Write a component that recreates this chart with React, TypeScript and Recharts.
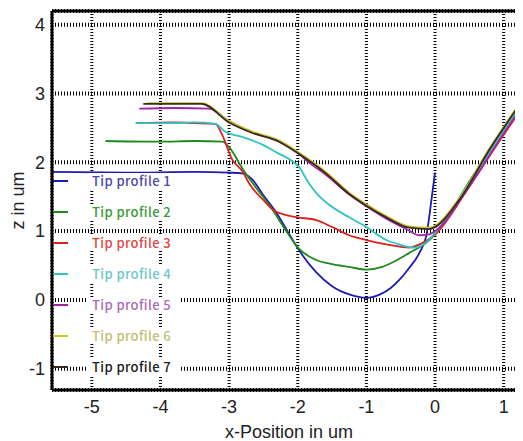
import {
  CartesianGrid,
  Legend,
  Line,
  LineChart,
  ReferenceLine,
  XAxis,
  YAxis,
} from "recharts";

const xTicks = [-5, -4, -3, -2, -1, 0, 1];
const zTicks = [-1, 0, 1, 2, 3, 4];

const profileNames = [
  "Tip profile 1",
  "Tip profile 2",
  "Tip profile 3",
  "Tip profile 4",
  "Tip profile 5",
  "Tip profile 6",
  "Tip profile 7",
];
const lineColors = ["#1c1cb4", "#1e8a1e", "#e0201e", "#2ec4c4", "#a424a8", "#c8c628", "#3a2a20"];
const textColors = ["#4a4aa8", "#3a9a3a", "#e04848", "#6cc8c8", "#a86cb8", "#c0c070", "#202020"];

const p1X = [-5.58, -4.5, -3.5, -3.0, -2.81, -2.67, -2.5, -2.32, -2.15, -1.98, -1.73, -1.5, -1.25, -1.0, -0.8, -0.65, -0.52, -0.38, -0.23, -0.12, -0.04, 0.0];
const p1Z = [1.86, 1.85, 1.86, 1.85, 1.84, 1.76, 1.52, 1.28, 1.0, 0.72, 0.4, 0.2, 0.08, 0.03, 0.08, 0.17, 0.29, 0.46, 0.68, 0.97, 1.55, 1.85];

const p2X = [-4.8, -4.0, -3.5, -3.1, -3.0, -2.8, -2.6, -2.4, -2.2, -1.98, -1.73, -1.5, -1.25, -1.0, -0.77, -0.63, -0.38, -0.13, 0.0, 0.5, 1.0, 1.26];
const p2Z = [2.31, 2.3, 2.31, 2.3, 2.22, 1.9, 1.62, 1.36, 1.05, 0.74, 0.58, 0.52, 0.48, 0.44, 0.48, 0.54, 0.68, 0.83, 0.95, 1.72, 2.5, 2.86];

const p3X = [-4.36, -3.8, -3.5, -3.2, -3.1, -2.96, -2.8, -2.7, -2.5, -2.35, -2.2, -2.0, -1.73, -1.5, -1.25, -1.0, -0.67, -0.38, -0.2, 0.0, 0.5, 1.0, 1.26];
const p3Z = [2.57, 2.58, 2.57, 2.56, 2.4, 2.05, 1.86, 1.68, 1.45, 1.3, 1.24, 1.2, 1.16, 1.06, 0.94, 0.87, 0.8, 0.76, 0.82, 0.95, 1.65, 2.4, 2.78];

const p4X = [-4.36, -3.9, -3.5, -3.2, -3.05, -2.81, -2.5, -2.32, -2.1, -1.98, -1.84, -1.7, -1.59, -1.25, -1.0, -0.71, -0.5, -0.3, -0.15, 0.0, 0.5, 1.0, 1.26];
const p4Z = [2.57, 2.57, 2.58, 2.56, 2.44, 2.37, 2.25, 2.15, 2.03, 1.93, 1.7, 1.52, 1.42, 1.2, 1.06, 0.87, 0.8, 0.76, 0.82, 0.97, 1.7, 2.45, 2.82];

const p5X = [-4.31, -3.8, -3.29, -3.0, -2.67, -2.27, -1.98, -1.84, -1.59, -1.25, -1.0, -0.71, -0.4, -0.23, -0.1, 0.0, 0.5, 1.0, 1.26];
const p5Z = [2.78, 2.79, 2.78, 2.6, 2.44, 2.3, 2.12, 2.0, 1.82, 1.53, 1.36, 1.18, 1.02, 0.94, 0.95, 1.0, 1.65, 2.42, 2.8];

const p6X = [-4.2, -3.8, -3.4, -3.0, -2.67, -2.27, -1.98, -1.59, -1.25, -1.0, -0.71, -0.38, -0.09, 0.35, 0.79, 1.26];
const p6Z = [2.86, 2.86, 2.86, 2.6, 2.45, 2.32, 2.14, 1.86, 1.56, 1.39, 1.22, 1.07, 1.05, 1.47, 2.2, 2.9];

const p7X = [-4.25, -3.8, -3.4, -3.0, -2.67, -2.27, -1.98, -1.59, -1.25, -1.0, -0.71, -0.38, -0.09, 0.35, 0.79, 1.26];
const p7Z = [2.85, 2.85, 2.85, 2.58, 2.43, 2.3, 2.12, 1.84, 1.54, 1.37, 1.2, 1.05, 1.03, 1.45, 2.18, 2.88];

const toPoints = (xs: number[], zs: number[]) => xs.map((x, i) => ({ x, z: zs[i] }));

const profiles = [
  toPoints(p1X, p1Z),
  toPoints(p2X, p2Z),
  toPoints(p3X, p3Z),
  toPoints(p4X, p4Z),
  toPoints(p5X, p5Z),
  toPoints(p6X, p6Z),
  toPoints(p7X, p7Z),
];

const axisFont = { fontFamily: "Liberation Sans, Arial, sans-serif", fontSize: 18, fill: "#222" };

function ProfileLegend() {
  return (
    <div style={{ width: 160 }}>
      {profileNames.map((name, i) => (
        <div key={name} style={{ height: 31, display: "flex", alignItems: "center" }}>
          <span style={{ width: 15, height: 2, background: lineColors[i], display: "inline-block" }} />
          <span
            style={{
              marginLeft: 20,
              padding: "0 8px 0 4px",
              background: "#fff",
              color: textColors[i],
              fontFamily: "'Noto Sans CJK JP', sans-serif",
              fontWeight: 500,
              fontSize: 13,
              letterSpacing: 0.4,
              lineHeight: "16px",
            }}
          >
            {name}
          </span>
        </div>
      ))}
    </div>
  );
}

export default function App() {
  return (
    <div style={{ width: 515, height: 433, overflow: "hidden", position: "relative" }}>
      <LineChart width={540} height={433} margin={{ top: 3, right: 10, left: 0, bottom: 21 }}>
        <CartesianGrid vertical={false} stroke="#000" strokeDasharray="1 2" strokeWidth={4} />
        <CartesianGrid horizontal={false} stroke="#000" strokeDasharray="1 2" strokeWidth={3} />
        <XAxis
          dataKey="x"
          type="number"
          domain={[-5.58, 1.5]}
          ticks={xTicks}
          allowDataOverflow
          height={30}
          tickSize={0}
          tickMargin={10}
          tick={axisFont}
          axisLine={{ stroke: "#000", strokeWidth: 3 }}
          label={{ value: "x-Position in um", position: "bottom", offset: 5, dx: -6, style: axisFont }}
        />
        <YAxis
          type="number"
          domain={[-1.31, 4.2]}
          ticks={zTicks}
          allowDataOverflow
          width={44}
          tickSize={0}
          tickMargin={7}
          tick={axisFont}
          axisLine={{ stroke: "#000", strokeWidth: 3 }}
          label={{ value: "z in um", angle: -90, position: "center", dx: -12, style: axisFont }}
        />
        <ReferenceLine y={4.2} stroke="#000" strokeWidth={3} />
        <Legend
          layout="vertical"
          align="center"
          verticalAlign="middle"
          wrapperStyle={{ left: 45, top: 157, width: 160 }}
          content={() => <ProfileLegend />}
        />
        {profiles.map((points, i) => (
          <Line
            key={profileNames[i]}
            data={points}
            dataKey="z"
            name={profileNames[i]}
            type="monotone"
            stroke={lineColors[i]}
            strokeWidth={1.8}
            dot={false}
            isAnimationActive={false}
          />
        ))}
      </LineChart>
    </div>
  );
}
